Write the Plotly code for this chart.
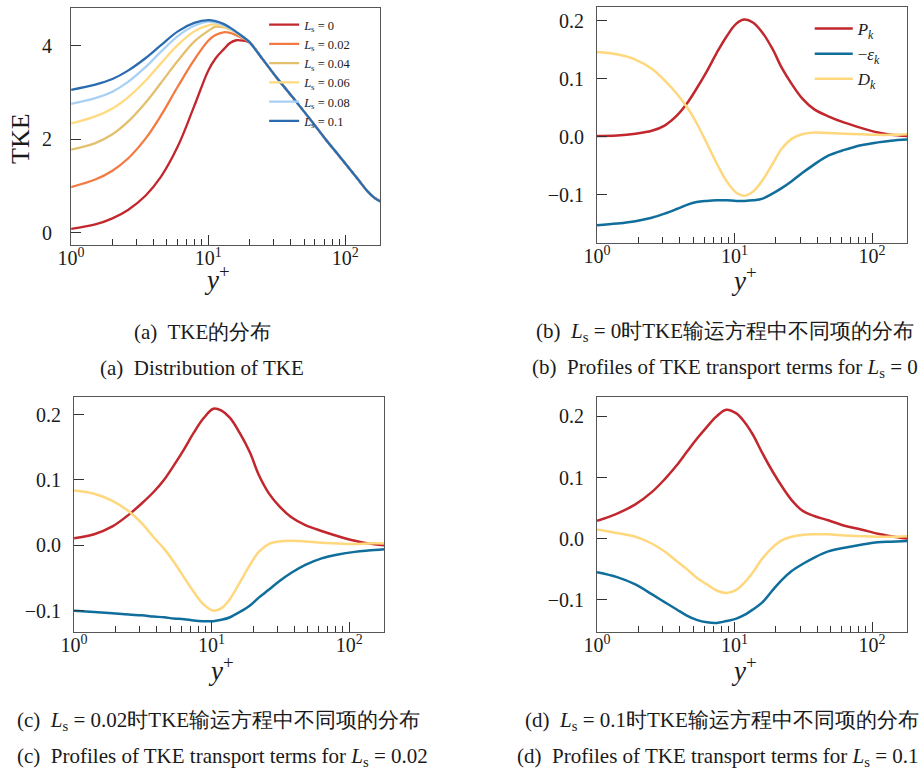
import plotly.graph_objects as go

W, H = 922, 769

# ---------------- data ----------------
# (a) TKE profiles
yplus_a = [1, 1.5, 2, 2.6, 3.5, 4.5, 6, 7.9, 10, 11.3, 12.9, 14.4, 16, 18, 20,
           25, 31, 41, 54, 71, 94, 124, 145, 163, 180]
ls_labels = ["0", "0.02", "0.04", "0.06", "0.08", "0.1"]
tke_ls000 = [0.085, 0.18, 0.31, 0.49, 0.80, 1.19, 1.85, 2.71, 3.47, 3.73, 3.92, 4.06, 4.12, 4.11, 4.07,
             3.71, 3.35, 2.91, 2.47, 2.02, 1.58, 1.14, 0.89, 0.75, 0.68]
tke_ls002 = [0.98, 1.14, 1.33, 1.59, 2.02, 2.50, 3.13, 3.70, 4.11, 4.23, 4.29, 4.28, 4.23, 4.16, 4.08,
             3.71, 3.35, 2.91, 2.47, 2.02, 1.58, 1.14, 0.89, 0.75, 0.68]
tke_ls004 = [1.78, 1.92, 2.11, 2.38, 2.79, 3.20, 3.68, 4.09, 4.32, 4.41, 4.40, 4.35, 4.28, 4.18, 4.08,
             3.71, 3.35, 2.91, 2.47, 2.02, 1.58, 1.14, 0.89, 0.75, 0.67]
tke_ls006 = [2.34, 2.49, 2.66, 2.90, 3.26, 3.62, 4.02, 4.31, 4.44, 4.46, 4.42, 4.36, 4.28, 4.18, 4.08,
             3.71, 3.35, 2.91, 2.47, 2.02, 1.58, 1.14, 0.89, 0.75, 0.67]
tke_ls008 = [2.76, 2.88, 3.02, 3.23, 3.55, 3.87, 4.21, 4.43, 4.52, 4.50, 4.44, 4.37, 4.29, 4.19, 4.08,
             3.71, 3.35, 2.91, 2.47, 2.02, 1.58, 1.14, 0.89, 0.75, 0.67]
tke_ls010 = [3.06, 3.17, 3.29, 3.47, 3.74, 4.01, 4.31, 4.49, 4.55, 4.53, 4.47, 4.39, 4.30, 4.19, 4.08,
             3.71, 3.35, 2.91, 2.47, 2.02, 1.58, 1.14, 0.89, 0.75, 0.67]

# (b)-(d) TKE budget terms
yplus_b = [1, 1.4, 1.9, 2.5, 3.1, 3.8, 4.5, 5.3, 6.3, 7.4, 8.7, 10.3, 11.8, 13.6, 16, 19, 22, 26,
           31, 38, 48, 63, 83, 110, 137, 180]
pk_ls000 = [0.001, 0.002, 0.005, 0.010, 0.019, 0.036, 0.057, 0.083, 0.113, 0.144, 0.172, 0.195, 0.202,
            0.197, 0.179, 0.150, 0.119, 0.091, 0.066, 0.047, 0.035, 0.024, 0.015, 0.007, 0.003, 0.001]
eps_ls000 = [-0.153, -0.150, -0.146, -0.140, -0.133, -0.125, -0.118, -0.113, -0.111, -0.110, -0.110,
             -0.111, -0.111, -0.110, -0.107, -0.098, -0.089, -0.077, -0.063, -0.048, -0.033, -0.023,
             -0.015, -0.010, -0.007, -0.005]
dk_ls000 = [0.146, 0.142, 0.133, 0.117, 0.097, 0.074, 0.051, 0.023, -0.012, -0.046, -0.076, -0.097,
            -0.102, -0.095, -0.075, -0.046, -0.021, -0.004, 0.004, 0.007, 0.006, 0.005, 0.004, 0.003,
            0.003, 0.004]

pk_ls002 = [0.011, 0.017, 0.029, 0.047, 0.064, 0.082, 0.100, 0.122, 0.147, 0.172, 0.194, 0.209, 0.206,
            0.195, 0.172, 0.142, 0.108, 0.080, 0.060, 0.043, 0.031, 0.022, 0.014, 0.007, 0.003, 0.000]
eps_ls002 = [-0.100, -0.102, -0.104, -0.106, -0.107, -0.109, -0.110, -0.112, -0.113, -0.115, -0.116,
             -0.116, -0.114, -0.110, -0.102, -0.092, -0.080, -0.068, -0.055, -0.042, -0.030, -0.020,
             -0.014, -0.010, -0.008, -0.006]
dk_ls002 = [0.084, 0.079, 0.068, 0.052, 0.034, 0.012, -0.005, -0.025, -0.049, -0.071, -0.090, -0.100,
            -0.096, -0.082, -0.057, -0.030, -0.010, 0.002, 0.006, 0.007, 0.006, 0.004, 0.003, 0.002,
            0.003, 0.003]

pk_ls010 = [0.029, 0.041, 0.056, 0.076, 0.097, 0.120, 0.142, 0.163, 0.183, 0.200, 0.211, 0.205, 0.191,
            0.170, 0.139, 0.109, 0.086, 0.063, 0.046, 0.037, 0.030, 0.021, 0.015, 0.008, 0.004, 0.000]
eps_ls010 = [-0.055, -0.063, -0.075, -0.091, -0.104, -0.116, -0.126, -0.133, -0.137, -0.138, -0.135,
             -0.131, -0.125, -0.116, -0.104, -0.084, -0.068, -0.053, -0.042, -0.031, -0.021, -0.015,
             -0.010, -0.006, -0.005, -0.004]
dk_ls010 = [0.015, 0.009, 0.003, -0.008, -0.021, -0.037, -0.050, -0.064, -0.075, -0.085, -0.089, -0.084,
            -0.072, -0.055, -0.032, -0.014, -0.003, 0.003, 0.006, 0.007, 0.007, 0.005, 0.004, 0.003,
            0.003, 0.004]

x_tickvals = [1, 10, 100]
x_ticktext = ["10<sup>0</sup>", "10<sup>1</sup>", "10<sup>2</sup>"]
x_minor = [2, 3, 4, 5, 6, 7, 8, 9, 20, 30, 40, 50, 60, 70, 80, 90]

# ---------------- style ----------------
SERIF = "Liberation Serif"
TXT = "#1a1a1a"
tke_colors = ["#C1272D", "#F47A44", "#E3C06E", "#FFDA80", "#A8D0F4", "#2B6CB0"]
c_pk, c_eps, c_dk = "#C1272D", "#0F6E9B", "#FFD77D"

fig = go.Figure()

tke_series = [tke_ls000, tke_ls002, tke_ls004, tke_ls006, tke_ls008, tke_ls010]
for lab, vals, col in zip(ls_labels, tke_series, tke_colors):
    fig.add_trace(go.Scatter(
        x=yplus_a, y=vals, mode="lines", line=dict(color=col, width=2.3, shape="spline"),
        name="<i>L</i><sub>s</sub> = " + lab, xaxis="x", yaxis="y", legend="legend"))

budget_names = ["<i>P<sub>k</sub></i>", "\u2212<i>\u03b5<sub>k</sub></i>", "<i>D<sub>k</sub></i>"]
budget_colors = [c_pk, c_eps, c_dk]
panels = [("x2", "y2", [pk_ls000, eps_ls000, dk_ls000], True),
          ("x3", "y3", [pk_ls002, eps_ls002, dk_ls002], False),
          ("x4", "y4", [pk_ls010, eps_ls010, dk_ls010], False)]
for xa, ya, series, show in panels:
    for nm, vals, col in zip(budget_names, series, budget_colors):
        fig.add_trace(go.Scatter(
            x=yplus_b, y=vals, mode="lines", line=dict(color=col, width=2.5, shape="spline"),
            name=nm, xaxis=xa, yaxis=ya, legend="legend2", showlegend=show))


def px_dom_x(a, b):
    return [a / W, b / W]


def px_dom_y(top, bottom):
    return [1 - bottom / H, 1 - top / H]


def xax(dom, anchor):
    return dict(domain=dom, anchor=anchor, type="log", range=[0, 2.2553],
                tickmode="array", tickvals=x_tickvals, ticktext=x_ticktext,
                ticks="inside", ticklen=10, tickwidth=1, tickcolor="#333",
                minor=dict(tickmode="array", tickvals=x_minor, ticks="inside", ticklen=6,
                           tickwidth=1, tickcolor="#333", showgrid=False),
                showline=True, linecolor="#555", linewidth=1.2, mirror=True,
                showgrid=False, zeroline=False, ticklabelstandoff=-5,
                tickfont=dict(family=SERIF, size=20, color=TXT))


def yax(dom, anchor, rng, tickvals, fmt, standoff=8):
    return dict(domain=dom, anchor=anchor, range=rng, tickmode="array", tickvals=tickvals,
                tickformat=fmt, ticks="inside", ticklen=10, tickwidth=1, tickcolor="#333",
                showline=True, linecolor="#555", linewidth=1.2, mirror=True,
                showgrid=False, zeroline=False, ticklabelstandoff=standoff,
                tickfont=dict(family=SERIF, size=20, color=TXT))


fig.update_layout(
    width=W, height=H, margin=dict(l=0, r=0, t=0, b=0),
    paper_bgcolor="white", plot_bgcolor="white",
    font=dict(family=SERIF, color=TXT),
    xaxis=xax(px_dom_x(58, 372), "y"),
    yaxis=yax(px_dom_y(8, 245), "x", [-0.26, 4.81], [0, 2, 4], "d", standoff=14),
    xaxis2=xax(px_dom_x(592, 907), "y2"),
    yaxis2=yax(px_dom_y(7, 243), "x2", [-0.1837, 0.2237], [-0.1, 0.0, 0.1, 0.2], ".1f"),
    xaxis3=xax(px_dom_x(61, 376), "y3"),
    yaxis3=yax(px_dom_y(397, 632), "x3", [-0.1326, 0.227], [-0.1, 0.0, 0.1, 0.2], ".1f"),
    xaxis4=xax(px_dom_x(592, 907), "y4"),
    yaxis4=yax(px_dom_y(397, 632), "x4", [-0.1529, 0.2318], [-0.1, 0.0, 0.1, 0.2], ".1f"),
    legend=dict(x=254 / W, y=1 - 10 / H, xanchor="left", yanchor="top",
                bgcolor="rgba(0,0,0,0)", font=dict(family=SERIF, size=12.5, color=TXT),
                tracegroupgap=0),
    legend2=dict(x=808 / W, y=1 - 11 / H, xanchor="left", yanchor="top",
                 bgcolor="rgba(0,0,0,0)", font=dict(family=SERIF, size=17, color=TXT),
                 itemwidth=38),
    showlegend=True,
)

ann = []
# axis labels
ann.append(dict(text="TKE", x=6 / W, y=1 - 138 / H, xref="paper", yref="paper",
                textangle=-90, showarrow=False, xanchor="center", yanchor="middle",
                font=dict(family=SERIF, size=26, color=TXT)))
for cx, cy in [(206, 278), (741, 279), (210, 669), (741, 669)]:
    ann.append(dict(text="<i>y</i><sup>+</sup>", x=cx / W, y=1 - cy / H, xref="paper", yref="paper",
                    showarrow=False, xanchor="center", yanchor="middle",
                    font=dict(family=SERIF, size=27, color=TXT)))

# captions: (x position px, anchor, y center px, text)
captions = [
    (191, "center", 332, "(a)  TKE的分布"),
    (191, "center", 368, "(a)  Distribution of TKE"),
    (722, "center", 332, "(b)  <i>L</i><sub>s</sub> = 0时TKE输运方程中不同项的分布"),
    (722, "center", 368, "(b)  Profiles of TKE transport terms for <i>L</i><sub>s</sub> = 0"),
    (1, "left", 721, "(c)  <i>L</i><sub>s</sub> = 0.02时TKE输运方程中不同项的分布"),
    (1, "left", 757, "(c)  Profiles of TKE transport terms for <i>L</i><sub>s</sub> = 0.02"),
    (921, "right", 721, "(d)  <i>L</i><sub>s</sub> = 0.1时TKE输运方程中不同项的分布"),
    (921, "right", 757, "(d)  Profiles of TKE transport terms for <i>L</i><sub>s</sub> = 0.1"),
]
for cx, anchor, cy, t in captions:
    ann.append(dict(text=t, x=cx / W, y=1 - cy / H, xref="paper", yref="paper",
                    showarrow=False, xanchor=anchor, yanchor="middle",
                    font=dict(family=SERIF, size=21, color=TXT)))
fig.update_layout(annotations=ann)

fig.write_html("out.html")
